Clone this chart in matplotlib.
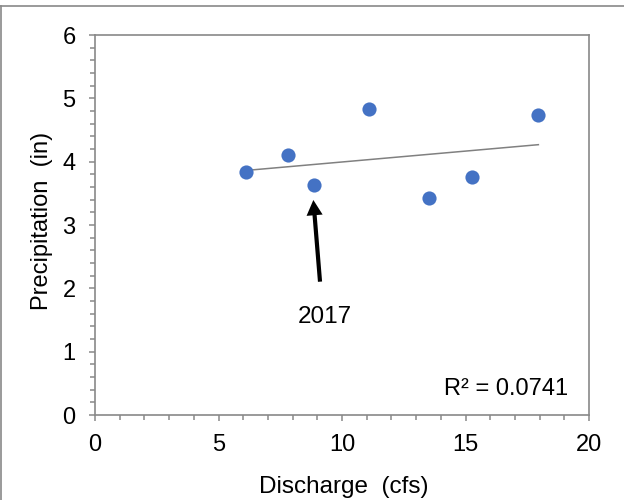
import numpy as np
import matplotlib
matplotlib.use("Agg")
import matplotlib.pyplot as plt
from matplotlib.lines import Line2D
from matplotlib.ticker import MultipleLocator

plt.rcParams['font.family'] = ['Liberation Sans', 'DejaVu Sans']

discharge = [6.10, 7.81, 8.88, 11.08, 13.53, 15.25, 17.95]
precip = [3.84, 4.105, 3.627, 4.837, 3.43, 3.753, 4.737]
r2_label = "R² = 0.0741"
annot_label = "2017"
annot_idx = 2

fig = plt.figure(figsize=(6.24, 5.0), dpi=100)
ax = fig.add_axes([95/624, 85/500, 494/624, 380/500])

gray = '#898989'
ax.scatter(discharge, precip, s=10.2**2, color='#4472C4', zorder=3, linewidths=0)

coef = np.polyfit(discharge, precip, 1)
xl = np.array([min(discharge), max(discharge)])
ax.plot(xl, np.polyval(coef, xl), color='#808080', lw=1.1, zorder=2)

ax.set_xlim(0, 20)
ax.set_ylim(0, 6)
ax.xaxis.set_major_locator(MultipleLocator(5))
ax.xaxis.set_minor_locator(MultipleLocator(1))
ax.yaxis.set_major_locator(MultipleLocator(1))
ax.yaxis.set_minor_locator(MultipleLocator(0.2))

for s in ax.spines.values():
    s.set_color(gray)
    s.set_linewidth(1.2)

ax.tick_params(which='major', direction='out', length=4.4, width=1.1, color=gray,
               labelsize=17, pad=9.5, labelcolor='black')
ax.tick_params(which='minor', direction='out', length=3.3, width=1.1, color=gray)

ax.set_xlabel("Discharge  (cfs)", fontsize=17.5)
ax.set_ylabel("Precipitation  (in)", fontsize=17)
ax.xaxis.label.set_va('center')
ax.yaxis.label.set_va('center')
ax.xaxis.set_label_coords(0.504, -0.189)
ax.yaxis.set_label_coords(-0.107, 0.51)

ax.text(19.15, 0.316, r2_label, ha='right', va='baseline', fontsize=17)

# annotation arrow pointing to 2017 point
ax.annotate("", xy=(discharge[annot_idx] - 0.04, 3.395), xytext=(9.11, 2.105),
            arrowprops=dict(arrowstyle='simple,head_length=0.55,head_width=0.58,tail_width=0.15',
                            mutation_scale=20, color='black', shrinkA=0, shrinkB=0, lw=0))
ax.text(9.31, 1.55, annot_label, ha='center', va='center', fontsize=17.5)

# outer chart border (partially visible)
fig.add_artist(Line2D([0, 1], [1 - 5.5/500, 1 - 5.5/500], transform=fig.transFigure, color=gray, lw=1.2))
fig.add_artist(Line2D([1.2/624, 1.2/624], [0, 1 - 5.5/500], transform=fig.transFigure, color=gray, lw=1.2))

fig.savefig("out.png", dpi=100)
